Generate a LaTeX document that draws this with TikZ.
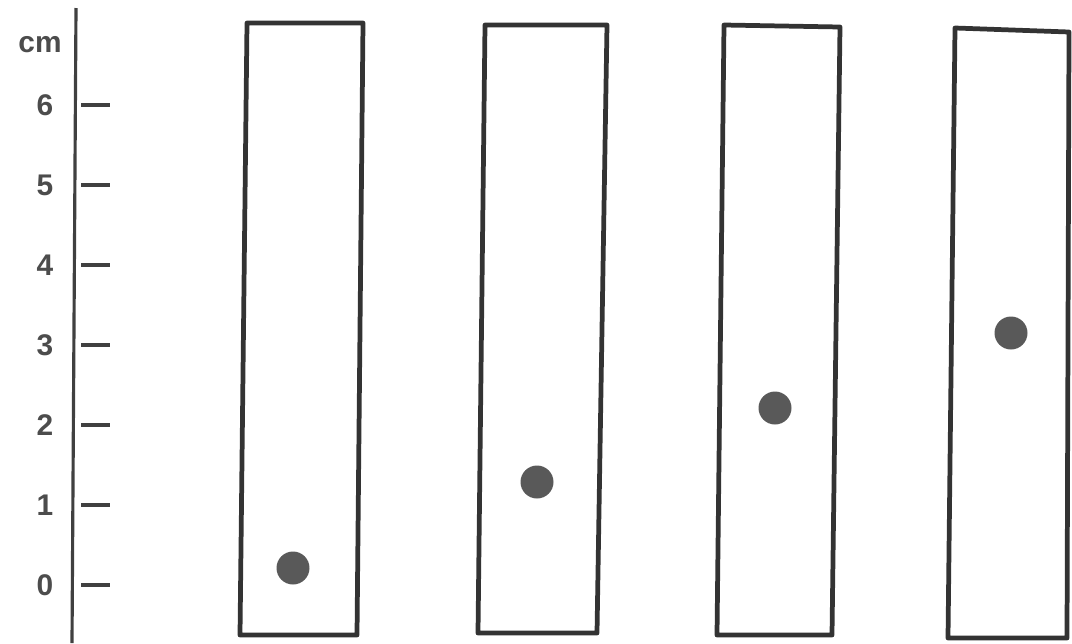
\documentclass[tikz,border=0pt]{standalone}
\usepackage{fontspec}
\setmainfont{Liberation Sans}
\usetikzlibrary{positioning}

\begin{document}
\begin{tikzpicture}[
  x=0.02cm, y=-0.02cm,
  strip/.style={draw=black!80, line width=2.7pt, line join=round},
  spot/.style={circle, fill=black!65, inner sep=0pt, minimum size=0.66cm},
  lbl/.style={font=\bfseries\fontsize{17}{19}\selectfont, text=black!70},
]
\useasboundingbox (0,0) rectangle (1072,643);

% scale in cm
\draw[line width=1.8pt, black!75] (76,8) -- (72,643);
\foreach \v in {0,...,6} {
  \draw[line width=1.8pt, black!75] (81,{585-80*\v}) -- (110,{585-80*\v});
  \node[lbl] (l\v) at (45,{585-80*\v}) {\v};
}
\node[lbl] (unit) at (40,45) {cm};

% paper strips
\draw[strip] (247,23) -- (363,23) -- (357,635) -- (240,635) -- cycle;
\draw[strip] (485,25) -- (607,25) -- (597,633) -- (478,633) -- cycle;
\draw[strip] (724,25) -- (840,27) -- (832,635) -- (717,635) -- cycle;
\draw[strip] (955,28) -- (1069,32) -- (1067,638) -- (948,638) -- cycle;

% spots
\node[spot] (d1) at (293,568) {};
\node[spot] (d2) at (537,482) {};
\node[spot] (d3) at (775,408) {};
\node[spot] (d4) at (1011,333) {};
\end{tikzpicture}
\end{document}
